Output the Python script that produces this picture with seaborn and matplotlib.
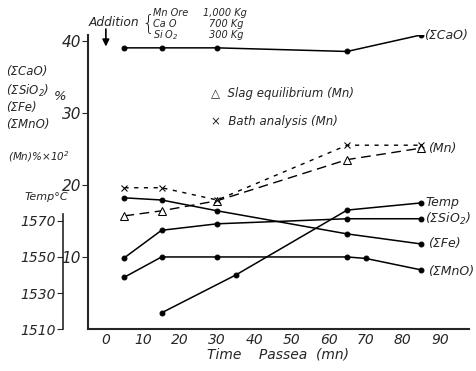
import matplotlib.pyplot as plt
import seaborn as sns

# time (min) and values
t_cao = [5, 15, 30, 65, 85]
cao = [39.0, 39.0, 39.0, 38.5, 40.8]

t_slag = [5, 15, 30, 65, 85]
mn_slag = [15.7, 16.4, 17.8, 23.5, 25.1]

t_bath = [5, 15, 30, 65, 85]
mn_bath = [19.6, 19.6, 17.9, 25.5, 25.5]

t_fe = [5, 15, 30, 65, 85]
fe = [18.2, 17.9, 16.4, 13.2, 11.8]

t_sio2 = [5, 15, 30, 65, 85]
sio2 = [9.9, 13.7, 14.6, 15.3, 15.3]

t_mno = [5, 15, 30, 65, 70, 85]
mno = [7.2, 10.0, 10.0, 10.0, 9.8, 8.2]

t_temp = [15, 35, 65, 85]
temp = [1519, 1540, 1576, 1580]

sns.set_style("white")
plt.rcParams["font.family"] = ["DejaVu Sans"]
plt.rcParams["font.style"] = "italic"

W, H = 476, 371
fig = plt.figure(figsize=(4.76, 3.71), dpi=100)
ax = fig.add_axes([0.185, 0.113, 0.80, 0.793])
ymax = 40.8
ax.set_xlim(-4.8, 97.8)
ax.set_ylim(0, ymax)


def txt(x, y, s, **kw):
    # place text by pixel position (x left, y centre from top)
    fig.text(x / W, 1 - y / H, s, va="center", **kw)


k = "black"
for tt, vv in [(t_cao, cao), (t_fe, fe), (t_sio2, sio2), (t_mno, mno)]:
    sns.lineplot(x=tt, y=vv, ax=ax, color=k, lw=1.1, marker="o", ms=3.5, mec=k)
sns.lineplot(x=t_slag, y=mn_slag, ax=ax, color=k, lw=1.0, marker="^",
             ms=6, mfc="white", mec=k)
ax.lines[-1].set_linestyle((0, (7, 4)))
sns.lineplot(x=t_bath, y=mn_bath, ax=ax, color=k, lw=1.0, marker="x",
             ms=5, mec=k)
ax.lines[-1].set_linestyle((0, (3, 4)))

tax = ax.twinx()
tax.set_ylim(1510, 1510 + 4 * ymax)
sns.lineplot(x=t_temp, y=temp, ax=tax, color=k, lw=1.1, marker="o", ms=3.5, mec=k)

for s in ["top", "right"]:
    ax.spines[s].set_visible(False)
for s in ["top", "right", "bottom"]:
    tax.spines[s].set_visible(False)
ax.spines["left"].set_linewidth(1.5)
ax.spines["bottom"].set_linewidth(1.5)
tax.spines["left"].set_position(("axes", -0.066))
tax.spines["left"].set_bounds(1510, 1574)
tax.spines["left"].set_linewidth(1.2)
tax.yaxis.set_ticks_position("left")
tax.yaxis.set_label_position("left")
tax.set_yticks([1510, 1530, 1550, 1570])
tax.tick_params(axis="y", direction="out", length=4, labelsize=10, pad=1)

ax.set_xticks(range(0, 100, 10))
ax.set_yticks([10, 20, 30, 40])
ax.tick_params(axis="x", direction="in", length=4, labelsize=10, pad=3)
ax.tick_params(axis="y", direction="out", length=4, labelsize=11, pad=1)
ax.set_xlabel("Time    Passea  (mn)", fontsize=10, labelpad=0)
for lab in ax.get_xticklabels() + ax.get_yticklabels() + tax.get_yticklabels():
    lab.set_fontstyle("italic")

# left side labels
txt(6, 72, "(ΣCaO)", fontsize=8.5)
txt(6, 91, "(ΣSiO$_2$)", fontsize=8.5)
txt(54, 96, "%", fontsize=9.5)
txt(6, 108, "(ΣFe)", fontsize=8.5)
txt(6, 124, "(ΣMnO)", fontsize=8.5)
txt(8, 157, "(Mn)%×10$^2$", fontsize=7.5)
txt(25, 197, "Temp°C", fontsize=8)

# addition note
txt(89, 22, "Addition", fontsize=8.8)
ax.annotate("", xy=(0, 38.8), xytext=(0, 42.0), annotation_clip=False,
            arrowprops=dict(arrowstyle="-|>", color=k, lw=1.2))
txt(141, 23, "{", fontsize=15, fontstyle="normal", fontweight="light")
txt(153, 13, "Mn Ore", fontsize=7)
txt(153, 24, "Ca O", fontsize=7)
txt(153, 35, "Si O$_2$", fontsize=7)
txt(203, 13, "1,000 Kg", fontsize=7)
txt(209, 24, "700 Kg", fontsize=7)
txt(209, 35, "300 Kg", fontsize=7)

# legend text
txt(211, 93, "△  Slag equilibrium (Mn)", fontsize=8.5)
txt(211, 122, "×  Bath analysis (Mn)", fontsize=8.5)

# right side labels
txt(424, 35, "(ΣCaO)", fontsize=9)
txt(428, 148, "(Mn)", fontsize=9)
txt(425, 202, "Temp", fontsize=9)
txt(425, 219, "(ΣSiO$_2$)", fontsize=9)
txt(428, 244, "(ΣFe)", fontsize=9)
txt(428, 271, "(ΣMnO)", fontsize=9)

fig.savefig("out.png", dpi=100)
